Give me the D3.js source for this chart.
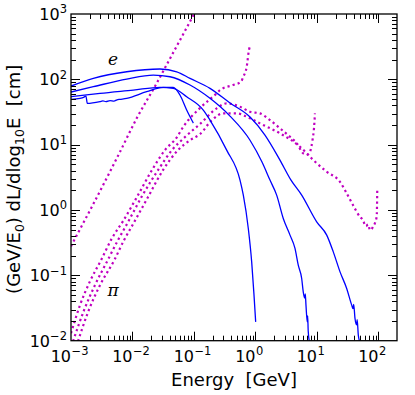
<!DOCTYPE html>
<html>
<head>
<meta charset="utf-8">
<script src="https://cdn.jsdelivr.net/npm/d3@7"></script>
<style>
  body { margin: 0; background: #fff; }
  text { font-family: "DejaVu Sans", sans-serif; }
</style>
</head>
<body>
<div id="container"></div>
<script>
// tick decades (labels are 10^exp)
var xTickExps = [-3, -2, -1, 0, 1, 2];
var yTickExps = [-2, -1, 0, 1, 2, 3];

// electron curves, [energy GeV, (GeV/E0) dL/dlog10E cm]
var electron100 = [[0.001,79],[0.00231,103.5],[0.00805,130.6],[0.028,143.9],[0.0524,130.6],[0.0861,103.5],
  [0.182,72.8],[0.385,43.4],[0.815,26.5],[1.426,14.0],[2.5,5.81],[3.78,2.87],[5.64,1.69],[9.89,0.659],
  [14.4,0.413],[18.4,0.229],[23.7,0.113],[30.4,0.063],[36.7,0.035],[38.5,0.031],[39.5,0.036],[41.5,0.0219],
  [44,0.0175],[45,0.021],[47,0.0121],[49.1,0.0098]];
var electron10 = [[0.001,64],[0.00231,77.1],[0.00805,101.1],[0.0218,116.4],[0.0407,109.6],[0.0861,81.8],
  [0.182,51.2],[0.385,27.4],[0.815,11.7],[1.276,5.42],[1.72,2.87],[2.21,1.69],[2.83,0.743],[3.64,0.413],
  [4.39,0.258],[4.96,0.143],[5.64,0.0896],[5.98,0.0557],[6.3,0.045],[6.45,0.052],[6.62,0.035],[6.95,0.0194],
  [7.05,0.024],[7.2,0.014],[7.5,0.0098]];
var electron1 = [[0.001,54.2],[0.00296,61.1],[0.0103,68.5],[0.028,75.3],[0.046,72.8],[0.076,54.2],
  [0.1416,33.9],[0.182,23.8],[0.34,8.26],[0.56,2.87],[0.634,1.69],[0.764,0.522],[0.867,0.161],
  [0.946,0.0498],[1.007,0.0194]];
var electron01 = [[0.001,49.4],[0.0014,51.2],[0.00163,53.6],[0.00175,55.5],[0.00184,42.9],[0.00296,45.7],
  [0.0033,46.8],[0.0037,45.6],[0.00431,47.3],[0.005,46.4],[0.0056,48.6],[0.00627,49.4],[0.00805,51.2],
  [0.017,64.6],[0.0317,75.3],[0.046,75.3],[0.0591,57.5],[0.076,33.9],[0.0975,21.4]];

// pion curves
var pion01 = [[0.001,0.28],[0.00459,4.34],[0.00627,7.78],[0.0117,25.3],[0.0247,86.9],[0.0382,186],
  [0.0918,859],[0.1,1000]];
var pion1 = [[0.001,0.013],[0.0014,0.035],[0.00204,0.0815],[0.00308,0.171],[0.00464,0.371],[0.00701,0.676],
  [0.0118,1.58],[0.0207,4.08],[0.0337,8.26],[0.053,13.1],[0.067,18.8],[0.125,36.3],[0.234,61.1],
  [0.265,68.5],[0.431,81.8],[0.581,91.8],[0.634,109.6],[0.72,156],[0.783,281],[0.836,335]];
var pion10 = [[0.00108,0.0098],[0.00163,0.0293],[0.00245,0.0708],[0.00396,0.171],[0.00581,0.346],
  [0.00845,0.653],[0.01426,1.63],[0.026,4.08],[0.0439,8.26],[0.0714,13.1],[0.125,20.7],[0.234,36.0],
  [0.34,42.9],[0.56,38.0],[0.815,31.9],[1.18,30.1],[1.72,23.8],[2.5,17.8],[3.64,13.2],[4.68,10.5],
  [5.98,7.36],[6.87,7.04],[7.69,7.78],[8.45,11.7],[8.94,17.9],[9.27,30.1]];
var pion100 = [[0.0013,0.0098],[0.00189,0.0273],[0.00296,0.0708],[0.00506,0.171],[0.00728,0.346],
  [0.0102,0.608],[0.0179,1.58],[0.0313,4.08],[0.055,8.26],[0.0861,11.7],[0.125,14.5],[0.196,23.8],
  [0.296,30.1],[0.495,30.1],[0.815,25.3],[1.18,21.2],[2.5,14.9],[5.3,9.29],[8.71,5.81],[14.4,3.85],
  [23.7,2.7],[30.4,1.8],[38.5,1.19],[50,0.787],[55,0.72],[62.6,0.566],[68,0.6],[72.8,0.492],
  [81.5,0.553],[93.5,0.787],[95.5,2.02]];

var electronCurves = [electron100, electron10, electron1, electron01];
var pionCurves = [pion01, pion1, pion10, pion100];

var width = 415, height = 395;
var plotLeft = 71, plotRight = 397, plotTop = 14, plotBottom = 340.7;

var svg = d3.select("#container").append("svg")
  .attr("width", width).attr("height", height);

var x = d3.scaleLog().domain([1e-3, 200]).range([plotLeft, plotRight]);
var y = d3.scaleLog().domain([1e-2, 1e3]).range([plotBottom, plotTop]);

svg.append("clipPath").attr("id", "plot")
  .append("rect").attr("x", plotLeft).attr("y", plotTop)
  .attr("width", plotRight - plotLeft).attr("height", plotBottom - plotTop);

var line = d3.line().x(d => x(d[0])).y(d => y(d[1])).curve(d3.curveMonotoneX);

var curves = svg.append("g").attr("clip-path", "url(#plot)");

curves.selectAll("path.pion").data(pionCurves).join("path")
  .attr("class", "pion")
  .attr("d", line)
  .attr("fill", "none")
  .attr("stroke", "#c000c0")
  .attr("stroke-width", 2.2)
  .attr("stroke-dasharray", "2.2,3.1");

curves.selectAll("path.electron").data(electronCurves).join("path")
  .attr("class", "electron")
  .attr("d", line)
  .attr("fill", "none")
  .attr("stroke", "#0000ff")
  .attr("stroke-width", 1.3);

// ticks, inward on all four sides
function isMajor(t) {
  var l = Math.log10(t);
  return Math.abs(l - Math.round(l)) < 1e-6;
}
var xt = x.ticks().filter(t => t > 1e-3 * 1.0001 && t < 199);
var yt = y.ticks().filter(t => t > 1e-2 * 1.0001 && t < 999);

var ticks = svg.append("g").attr("stroke", "#000").attr("stroke-width", 1);
xt.forEach(function(t) {
  var len = isMajor(t) ? 9 : 5, px = Math.round(x(t)) + 0.5;
  ticks.append("line").attr("x1", px).attr("x2", px).attr("y1", plotBottom).attr("y2", plotBottom - len);
  ticks.append("line").attr("x1", px).attr("x2", px).attr("y1", plotTop).attr("y2", plotTop + len);
});
yt.forEach(function(t) {
  var len = isMajor(t) ? 9 : 5, py = Math.round(y(t)) + 0.5;
  ticks.append("line").attr("y1", py).attr("y2", py).attr("x1", plotLeft).attr("x2", plotLeft + len);
  ticks.append("line").attr("y1", py).attr("y2", py).attr("x1", plotRight).attr("x2", plotRight - len);
});

svg.append("rect")
  .attr("x", plotLeft).attr("y", plotTop)
  .attr("width", plotRight - plotLeft).attr("height", plotBottom - plotTop)
  .attr("fill", "none").attr("stroke", "#000").attr("stroke-width", 1.3);

function sup(e) { return e < 0 ? "\u2212" + (-e) : String(e); }

// x tick labels
var xl = svg.append("g");
xTickExps.forEach(function(e) {
  var px = x(Math.pow(10, e));
  xl.append("text").attr("x", px).attr("y", 361.7).attr("text-anchor", "end")
    .style("font-size", "16px").text("10");
  xl.append("text").attr("x", px + 0.5).attr("y", 355).attr("text-anchor", "start")
    .style("font-size", "11.5px").text(sup(e));
});

// y tick labels
var yl = svg.append("g");
yTickExps.forEach(function(e) {
  var py = y(Math.pow(10, e));
  var t = yl.append("text").attr("x", 67).attr("y", py + 5.8).attr("text-anchor", "end");
  t.append("tspan").style("font-size", "16px").text("10");
  t.append("tspan").attr("dy", -6.5).style("font-size", "11.5px").text(sup(e));
});

// axis labels
svg.append("text")
  .attr("x", (plotLeft + plotRight) / 2).attr("y", 386)
  .attr("text-anchor", "middle")
  .style("font-size", "18px")
  .text("Energy\u00a0\u00a0[GeV]");

var yLab = svg.append("text")
  .attr("transform", "translate(20," + ((plotTop + plotBottom) / 2 + 2) + ") rotate(-90)")
  .attr("text-anchor", "middle")
  .style("font-size", "18px");
yLab.append("tspan").text("(GeV/E");
yLab.append("tspan").attr("dy", 4).style("font-size", "12.5px").text("0");
yLab.append("tspan").attr("dy", -4).text(") dL/dlog");
yLab.append("tspan").attr("dy", 4).style("font-size", "12.5px").text("10");
yLab.append("tspan").attr("dy", -4).text("E\u00a0\u00a0[cm]");

// particle labels
svg.append("text").attr("x", 113).attr("y", 65).attr("text-anchor", "middle")
  .style("font-family", "'DejaVu Serif', serif").style("font-style", "italic")
  .style("font-size", "17px").text("e");
svg.append("text").attr("x", 113).attr("y", 296).attr("text-anchor", "middle")
  .style("font-family", "'DejaVu Serif', serif").style("font-style", "italic")
  .style("font-size", "17px").text("\u03c0");
</script>
</body>
</html>
